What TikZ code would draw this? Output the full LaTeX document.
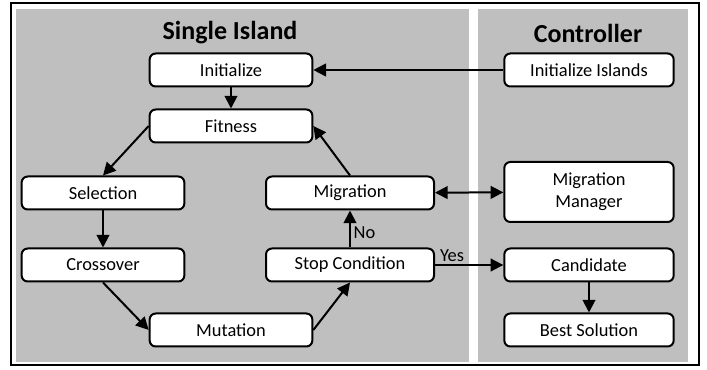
\documentclass[tikz,border=0pt]{standalone}
\usepackage{fontspec}
\setmainfont{Carlito}
\usetikzlibrary{arrows.meta}

\begin{document}
\begin{tikzpicture}[
  x=0.75pt, y=-0.75pt,
  >={Triangle[length=9.5pt,width=9.5pt]},
  box/.style={draw, line width=1.5pt, rounded corners=4.5pt, fill=white,
    minimum width=122pt, minimum height=24.75pt, inner sep=0pt,
    font=\fontsize{13.8}{16.5}\selectfont},
  lbl/.style={font=\fontsize{13.8}{16.5}\selectfont, inner sep=2pt},
  title/.style={font=\fontsize{19.5}{22}\selectfont\bfseries},
  link/.style={->, line width=1.5pt}
]
\useasboundingbox (0,0) rectangle (707,370);
\draw [line width=1.5pt, fill=white] (11,3) rectangle (699,365);
\fill [black!25] (16,9) rectangle (469,362);
\fill [black!25] (478,9) rectangle (688,362);

\node [title] at (230,33) {Single Island};
\node [title] at (588,33) {Controller};

% single island
\node [box] (init) at (231,70) {Initialize};
\node [box] (fit) at (231,126) {Fitness};
\node [box] (sel) at (103,193) {Selection};
\node [box] (cross) at (103,265) {Crossover};
\node [box] (mut) at (231,330) {Mutation};
\node [box, minimum width=126pt] (stop) at (350,265) {Stop Condition};
\node [box, minimum width=126pt] (mig) at (350,193) {Migration};

% controller
\node [box, minimum width=127pt] (initisl) at (589,70) {Initialize Islands};
\node [box, minimum width=127pt, minimum height=45pt, align=center] (migman) at (589,192) {Migration\\Manager};
\node [box, minimum width=127pt] (cand) at (589,265) {Candidate};
\node [box, minimum width=127pt] (best) at (589,330) {Best Solution};

\draw [link] (initisl) -- (init);
\draw [link] (init) -- (fit);
\draw [link] (fit.west) -- (sel.north);
\draw [link] (sel) -- (cross);
\draw [link] (cross.south) -- (mut.west);
\draw [link] (mut.east) -- (stop.south);
\draw [link] (stop) -- (mig) node [lbl, pos=0.4, right] {No};
\draw [link] (mig.north) -- (fit.east);
\draw [link, <->] (mig) -- (migman);
\draw [link] (stop) -- (cand) node [lbl, pos=0.25, above] {Yes};
\draw [link] (cand) -- (best);
\end{tikzpicture}
\end{document}
